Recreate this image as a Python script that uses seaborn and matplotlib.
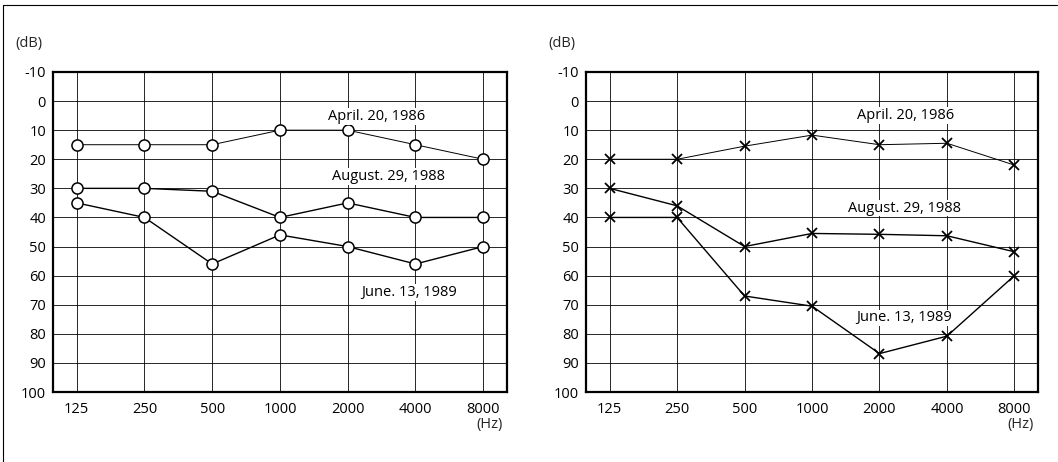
import numpy as np
import pandas as pd
import matplotlib
matplotlib.use("Agg")
import matplotlib.pyplot as plt
import seaborn as sns

# frequencies (Hz) shown as evenly spaced categories
freqs = ["125", "250", "500", "1000", "2000", "4000", "8000"]

# left audiogram (circle markers), hearing level in dB
left_april_1986 = [15, 15, 15, 10, 10, 15, 20]
left_august_1988 = [30, 30, 31, 40, 35, 40, 40]
left_june_1989 = [35, 40, 56, 46, 50, 56, 50]

# right audiogram (cross markers), hearing level in dB
right_april_1986 = [20, 20, 15.5, 11.7, 15, 14.5, 22]
right_august_1988 = [30, 36, 50, 45.5, 45.8, 46.3, 51.8]
right_june_1989 = [40, 40, 67, 70.5, 86.8, 80.8, 60]

labels = ["April. 20, 1986", "August. 29, 1988", "June. 13, 1989"]

sns.set_theme(style="white")
plt.rcParams['font.family'] = ['Open Sans', 'DejaVu Sans']
plt.rcParams['axes.unicode_minus'] = False

FS = 10.5

fig = plt.figure(figsize=(10.58, 4.62), dpi=100)
ax1 = fig.add_axes([0.0501, 0.1515, 0.429, 0.6927])
ax2 = fig.add_axes([0.5539, 0.1515, 0.4272, 0.6927])


def make_df(series):
    rows = []
    for name, vals in zip(labels, series):
        for i, v in enumerate(vals):
            rows.append({"pos": i, "db": v, "date": name})
    return pd.DataFrame(rows)


def draw_panel(ax, series, marker, msize, mew, label_pos):
    df = make_df(series)
    widths = [0.7, 1.0, 1.0]
    for name, lw in zip(labels, widths):
        sub = df[df["date"] == name]
        sns.lineplot(data=sub, x="pos", y="db", ax=ax, color="black",
                     linewidth=lw, sort=False, marker=marker,
                     markersize=msize, markerfacecolor="white",
                     markeredgecolor="black", markeredgewidth=mew,
                     zorder=3, legend=False)
    for name, (lx, ly) in zip(labels, label_pos):
        ax.text(lx, ly, name, ha="center", va="center", fontsize=FS,
                color="black", zorder=4,
                bbox=dict(facecolor="white", edgecolor="none", pad=0.5))

    ax.set_xlim(-0.35, 6.35)
    ax.set_ylim(100, -10)
    ax.set_xticks(range(len(freqs)))
    ax.set_xticklabels(freqs)
    ax.set_yticks(np.arange(-10, 101, 10))
    ax.grid(True, color="black", linewidth=0.7, alpha=0.85)
    ax.set_axisbelow(True)
    ax.tick_params(axis="both", length=0, labelsize=FS, colors="black")
    ax.tick_params(axis="x", pad=7)
    ax.tick_params(axis="y", pad=5)
    ax.set_xlabel("")
    ax.set_ylabel("")
    for s in ax.spines.values():
        s.set_visible(True)
        s.set_color("black")
        s.set_linewidth(1.6)
    ax.text(-0.084, 1.0875, "(dB)", transform=ax.transAxes, fontsize=FS,
            ha="left", va="center")
    ax.text(0.99, -0.103, "(Hz)", transform=ax.transAxes, fontsize=FS,
            ha="right", va="center")


draw_panel(ax1, [left_april_1986, left_august_1988, left_june_1989], "o", 8, 1.1,
           [(4.42, 5.3), (4.6, 26), (4.9, 65.8)])
draw_panel(ax2, [right_april_1986, right_august_1988, right_june_1989], "x", 7, 1.3,
           [(4.39, 5.0), (4.37, 36.8), (4.37, 74.5)])

# outer frame (top and left edges)
fig.add_artist(plt.Line2D([0.003, 0.999], [0.989, 0.989], color="black",
                          linewidth=0.8, transform=fig.transFigure))
fig.add_artist(plt.Line2D([0.003, 0.003], [0.0, 0.989], color="black",
                          linewidth=0.8, transform=fig.transFigure))

fig.savefig("out.png", dpi=100)
